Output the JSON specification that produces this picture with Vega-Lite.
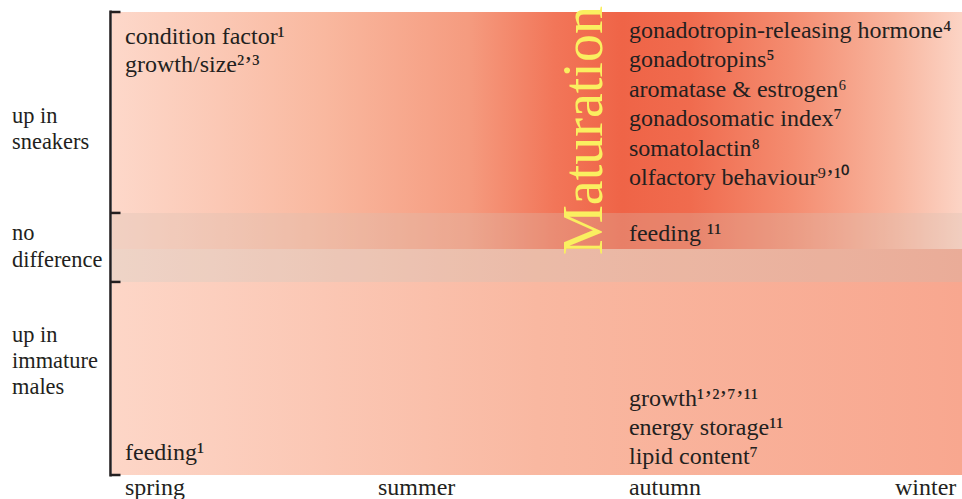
{
  "$schema": "https://vega.github.io/schema/vega-lite/v6.json",
  "autosize": {"type": "none"},
  "width": 850,
  "height": 463,
  "padding": {"left": 112, "top": 12, "right": 0, "bottom": 24},
  "background": "white",
  "config": {"view": {"stroke": null}, "text": {"font": "Times New Roman, Liberation Serif, serif"}},
  "datasets": {
    "bands": [
      {"band": "sneakers", "x": 0, "x2": 100, "y": 0, "y2": 51.2},
      {"band": "immature", "x": 0, "x2": 100, "y": 51.2, "y2": 100},
      {"band": "nodiff_top", "x": 0, "x2": 100, "y": 43.4, "y2": 51.2},
      {"band": "nodiff_bottom", "x": 0, "x2": 100, "y": 51.2, "y2": 58.3}
    ],
    "bracket": [
      {"part": "spine", "x": -0.18, "x2": -0.18, "y": -0.3, "y2": 100.3},
      {"part": "tick", "x": -0.18, "x2": 1.0, "y": 0, "y2": 0},
      {"part": "tick", "x": -0.18, "x2": 1.0, "y": 43.4, "y2": 43.4},
      {"part": "tick", "x": -0.18, "x2": 1.0, "y": 58.3, "y2": 58.3},
      {"part": "tick", "x": -0.18, "x2": 1.0, "y": 100, "y2": 100}
    ],
    "items": [
      {"label": "condition factor¹", "x": 1.53, "y": 6.91},
      {"label": "growth/size²’³", "x": 1.53, "y": 12.96},
      {"label": "gonadotropin-releasing hormone⁴", "x": 60.82, "y": 5.62},
      {"label": "gonadotropins⁵", "x": 60.82, "y": 11.88},
      {"label": "aromatase & estrogen⁶", "x": 60.82, "y": 18.36},
      {"label": "gonadosomatic index⁷", "x": 60.82, "y": 24.62},
      {"label": "somatolactin⁸", "x": 60.82, "y": 31.1},
      {"label": "olfactory behaviour⁹’¹⁰", "x": 60.82, "y": 37.37},
      {"label": "feeding ¹¹", "x": 60.82, "y": 49.46},
      {"label": "growth¹’²’⁷’¹¹", "x": 60.82, "y": 85.1},
      {"label": "energy storage¹¹", "x": 60.82, "y": 91.36},
      {"label": "lipid content⁷", "x": 60.82, "y": 97.62},
      {"label": "feeding¹", "x": 1.53, "y": 96.76},
      {"label": "spring", "x": 1.53, "y": 104.32},
      {"label": "summer", "x": 31.29, "y": 104.32},
      {"label": "autumn", "x": 60.82, "y": 104.32},
      {"label": "winter", "x": 92.12, "y": 104.32}
    ],
    "groups": [
      {"label": "up in", "x": -11.76, "y": 23.97},
      {"label": "sneakers", "x": -11.76, "y": 29.59},
      {"label": "no", "x": -11.76, "y": 49.24},
      {"label": "difference", "x": -11.76, "y": 55.08},
      {"label": "up in", "x": -11.76, "y": 71.27},
      {"label": "immature", "x": -11.76, "y": 76.89},
      {"label": "males", "x": -11.76, "y": 82.5}
    ],
    "title": [
      {"label": "Maturation", "x": 57.6, "y": 25.6}
    ]
  },
  "layer": [
    {
      "data": {"name": "bands"},
      "transform": [{"filter": "datum.band === 'sneakers'"}],
      "mark": {
        "type": "rect",
        "fill": {
          "gradient": "linear", "x1": 0, "y1": 0, "x2": 1, "y2": 0,
          "stops": [
            {"offset": 0, "color": "#fdd8ca"},
            {"offset": 0.25, "color": "#f9b89f"},
            {"offset": 0.42, "color": "#f59b7f"},
            {"offset": 0.52, "color": "#f27659"},
            {"offset": 0.6, "color": "#ef6447"},
            {"offset": 0.68, "color": "#f06b4e"},
            {"offset": 0.8, "color": "#f48c70"},
            {"offset": 0.92, "color": "#f8b59e"},
            {"offset": 1, "color": "#fcd4c5"}
          ]
        }
      },
      "encoding": {
        "x": {"field": "x", "type": "quantitative", "scale": {"domain": [0, 100], "nice": false}, "axis": null},
        "x2": {"field": "x2"},
        "y": {"field": "y", "type": "quantitative", "scale": {"domain": [0, 100], "nice": false, "reverse": true}, "axis": null},
        "y2": {"field": "y2"}
      }
    },
    {
      "data": {"name": "bands"},
      "transform": [{"filter": "datum.band === 'immature'"}],
      "mark": {
        "type": "rect",
        "fill": {
          "gradient": "linear", "x1": 0, "y1": 0, "x2": 1, "y2": 0,
          "stops": [
            {"offset": 0, "color": "#fdd6c7"},
            {"offset": 0.5, "color": "#f9b8a1"},
            {"offset": 1, "color": "#f8a78f"}
          ]
        }
      },
      "encoding": {
        "x": {"field": "x", "type": "quantitative"},
        "x2": {"field": "x2"},
        "y": {"field": "y", "type": "quantitative"},
        "y2": {"field": "y2"}
      }
    },
    {
      "data": {"name": "bands"},
      "transform": [{"filter": "datum.band === 'nodiff_top'"}],
      "mark": {"type": "rect", "fill": "#d8c0b4", "opacity": 0.3},
      "encoding": {
        "x": {"field": "x", "type": "quantitative"},
        "x2": {"field": "x2"},
        "y": {"field": "y", "type": "quantitative"},
        "y2": {"field": "y2"}
      }
    },
    {
      "data": {"name": "bands"},
      "transform": [{"filter": "datum.band === 'nodiff_bottom'"}],
      "mark": {"type": "rect", "fill": "#a8c8c8", "opacity": 0.17},
      "encoding": {
        "x": {"field": "x", "type": "quantitative"},
        "x2": {"field": "x2"},
        "y": {"field": "y", "type": "quantitative"},
        "y2": {"field": "y2"}
      }
    },
    {
      "data": {"name": "bracket"},
      "mark": {"type": "rule", "color": "#231f20", "strokeWidth": 2.5},
      "encoding": {
        "x": {"field": "x", "type": "quantitative"},
        "x2": {"field": "x2"},
        "y": {"field": "y", "type": "quantitative"},
        "y2": {"field": "y2"}
      }
    },
    {
      "data": {"name": "title"},
      "mark": {"type": "text", "fontSize": 56, "angle": 270, "align": "center", "baseline": "alphabetic", "color": "#faef60"},
      "encoding": {
        "x": {"field": "x", "type": "quantitative"},
        "y": {"field": "y", "type": "quantitative"},
        "text": {"field": "label"}
      }
    },
    {
      "data": {"name": "items"},
      "mark": {"type": "text", "fontSize": 24, "align": "left", "baseline": "alphabetic", "color": "#231f20"},
      "encoding": {
        "x": {"field": "x", "type": "quantitative"},
        "y": {"field": "y", "type": "quantitative"},
        "text": {"field": "label"}
      }
    },
    {
      "data": {"name": "groups"},
      "mark": {"type": "text", "fontSize": 22.4, "align": "left", "baseline": "alphabetic", "color": "#231f20"},
      "encoding": {
        "x": {"field": "x", "type": "quantitative"},
        "y": {"field": "y", "type": "quantitative"},
        "text": {"field": "label"}
      }
    }
  ]
}
